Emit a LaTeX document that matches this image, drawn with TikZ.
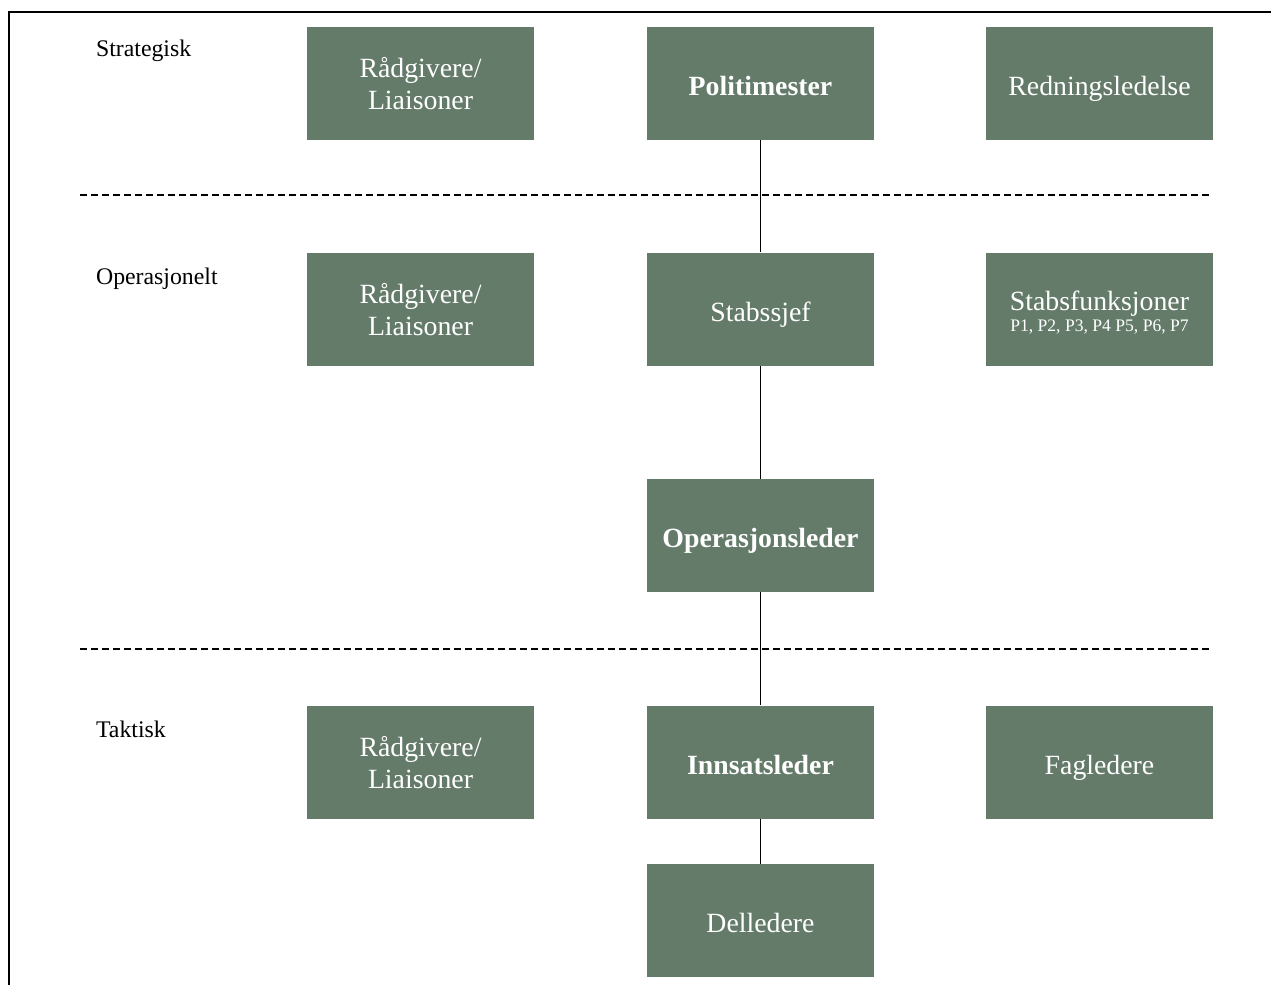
\documentclass[tikz,border=0pt]{standalone}
\usepackage{fontspec}
\setmainfont{Liberation Serif}
\usepackage{tikz}

\definecolor{boxgreen}{RGB}{100,123,106}

\begin{document}
\begin{tikzpicture}[x=0.5pt,y=-0.5pt,
        box/.style={fill=boxgreen,text=white,minimum width=113.5pt,minimum height=56.5pt,inner sep=0pt,align=center,font=\fontsize{13.9}{16}\selectfont},
        onebox/.style={box,text height=12pt,text depth=0pt},
        level/.style={anchor=base west,font=\fontsize{11.9}{14}\selectfont},
        sep/.style={line width=0.7pt,dash pattern=on 3.5pt off 2pt}]
        \useasboundingbox (0,0) rectangle (1273,985);
        \pgfmathsetmacro\xl{420.5}
        \pgfmathsetmacro\xm{760.5}
        \pgfmathsetmacro\xr{1099.5}
        % border
        \draw[line width=1pt] (9,985) -- (9,12) -- (1271,12);
        % levels
        \node[level] (strat) at (89,56) {Strategisk};
        \node[level] (oper) at (89,284) {Operasjonelt};
        \node[level] (takt) at (89,737) {Taktisk};
        \draw[sep] (80,195) -- (1210,195);
        \draw[sep] (80,649) -- (1210,649);
        % boxes
        \node[box] (rad1) at (\xl,83) {\rule{0pt}{11pt}Rådgivere/\\Liaisoner};
        \node[onebox] (pm) at (\xm,83) {\textbf{Politimester}};
        \node[onebox] (red) at (\xr,83) {Redningsledelse};
        \node[box] (rad2) at (\xl,309) {\rule{0pt}{11pt}Rådgivere/\\Liaisoner};
        \node[onebox] (sj) at (\xm,309) {Stabssjef};
        \node[box] (stab) at (\xr,309) {\rule{0pt}{13pt}Stabsfunksjoner\\[-5.5pt]{\fontsize{8.8}{10}\selectfont P1, P2, P3, P4 P5, P6, P7}};
        \node[onebox] (ol) at (\xm,535.5) {\textbf{Operasjonsleder}};
        \node[box] (rad3) at (\xl,762) {\rule{0pt}{11pt}Rådgivere/\\Liaisoner};
        \node[onebox] (il) at (\xm,762) {\textbf{Innsatsleder}};
        \node[onebox] (fag) at (\xr,762) {Fagledere};
        \node[onebox] (del) at (\xm,920.5) {Delledere};
        % lines
        \draw (pm) -- (sj) -- (ol) -- (il) -- (del);
\end{tikzpicture}
\end{document}
